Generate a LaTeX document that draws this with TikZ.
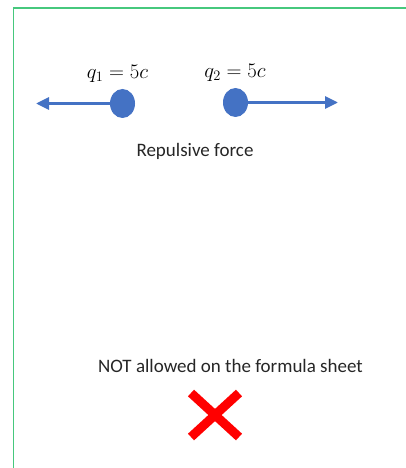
\documentclass[tikz,border=0pt]{standalone}
\usepackage{fontspec}
\setmainfont{Carlito}
\usepackage{xcolor}
\usepackage{tikz}
\usetikzlibrary{arrows.meta, positioning, shapes.geometric}

\definecolor{framegreen}{RGB}{70,200,125}
\definecolor{chargeblue}{RGB}{68,114,196}

\begin{document}
\begin{tikzpicture}[
          x=1pt, y=-1pt,
          charge/.style={ellipse, fill=chargeblue, minimum width=25pt,
                         minimum height=29pt, inner sep=0pt},
          force/.style={-{Triangle[length=13pt, width=12pt]}, line width=3pt,
                        draw=chargeblue},
          lbl/.style={font=\fontsize{21}{24}\selectfont, inner sep=0pt},
          txt/.style={font=\fontsize{19}{22}\selectfont, inner sep=0pt,
                      text=black!85},
          cross/.style={draw=red, line width=9pt}
        ]
          \useasboundingbox (0,0) rectangle (406,468);
          % frame
          \draw[framegreen, line width=1.5pt] (13.5,468) -- (13.5,8) -- (406,8);
          % charges
          \node[charge] (q1) at (122.5,103.5) {};
          \node[charge] (q2) at (235.5,102.5) {};
          \node[lbl] (l1) at (117.5,74) {$q_1 = 5c$};
          \node[lbl] (l2) at (235,73) {$q_2 = 5c$};
          \coordinate (tipL) at (36,103.5);
          \coordinate (tipR) at (338,102.5);
          \draw[force] (q1.center) -- (tipL);
          \draw[force] (q2.center) -- (tipR);
          \node[txt] (rep) at (195,151) {Repulsive force};
          % not allowed
          \node[txt] (note) at (230.5,366) {NOT allowed on the formula sheet};
          \coordinate (xa) at (191,393);
          \coordinate (xb) at (239,437);
          \coordinate (xc) at (239,393);
          \coordinate (xd) at (191,437);
          \draw[cross] (xa) -- (xb);
          \draw[cross] (xc) -- (xd);
        \end{tikzpicture}
\end{document}
